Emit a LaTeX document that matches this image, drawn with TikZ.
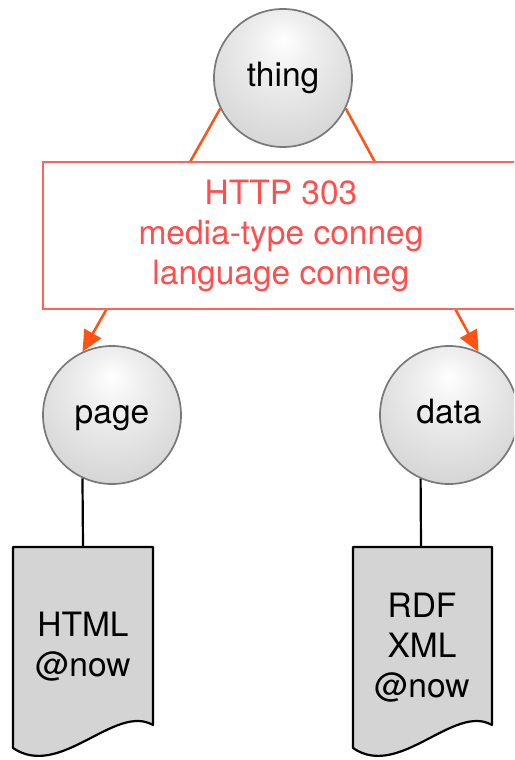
\documentclass[tikz,border=0pt]{standalone}
\usepackage{fontspec}
\setmainfont{TeX Gyre Heros}
\usetikzlibrary{arrows.meta}
\definecolor{lineor}{RGB}{255,82,20}
\definecolor{boxred}{RGB}{255,100,90}
\definecolor{txtred}{RGB}{255,78,78}
\definecolor{docgray}{RGB}{212,212,212}
\definecolor{ringgray}{RGB}{120,120,120}
\pgfdeclareradialshading{sphere}{\pgfpoint{0bp}{14bp}}{color(0bp)=(white); color(10bp)=(gray!12); color(36bp)=(gray!36); color(66bp)=(gray!62)}
\newcommand\bigtxt{\fontsize{33.5}{40}\selectfont}
\tikzset{
  ball/.style={circle, minimum size=138pt, inner sep=0pt, shading=sphere, draw=ringgray, line width=1.7pt, font=\bigtxt, text height=24pt, text depth=7pt},
  conn/.style={lineor, line width=2.5pt},
  connarrow/.style={conn, -{Triangle[length=21pt,width=19pt]}},
  labelbox/.style={draw=boxred, line width=2.2pt, fill=white, text=txtred, align=center, font=\bigtxt, inner sep=0pt},
  docshape/.style={fill=docgray, draw=black, line width=2.2pt, line join=round},
  doctext/.style={align=center, font=\bigtxt, inner sep=0pt},
  stem/.style={black, line width=2.2pt}
}
\begin{document}
\begin{tikzpicture}[x=1pt,y=-1pt]
\clip (0,0) rectangle (514,760);
\fill[white] (0,0) rectangle (514,760);
% circles
\node[ball] (thing) at (283,78) {thing};
\node[ball] (page) at (112,415) {page};
\node[ball] (data) at (449,415) {data};
% connectors thing -> page/data
\draw[connarrow] (thing.206) -- (page.115.5);
\draw[connarrow] (thing.334.6) -- (data.65.3);
% label box
\node[labelbox, minimum width=476pt, minimum height=147pt] (conneg) at (281,235.5)
  {HTTP 303\\media-type conneg\\language conneg};
% documents
\draw[docshape] (13,547) -- (153,547) -- (153,725)
  .. controls (115,703) and (60,780) .. (13,748) -- cycle;
\draw[docshape] (353,547) -- (492,547) -- (492,725)
  .. controls (454,703) and (399,780) .. (353,748) -- cycle;
\coordinate (doctopA) at (83,547);
\coordinate (doctopB) at (421,547);
\node[doctext] (html) at (83,647) {HTML\\@now};
\node[doctext] (rdf) at (422,648) {RDF\\XML\\@now};
\draw[stem] (page.245.1) -- (doctopA);
\draw[stem] (data.246) -- (doctopB);
\end{tikzpicture}
\end{document}
